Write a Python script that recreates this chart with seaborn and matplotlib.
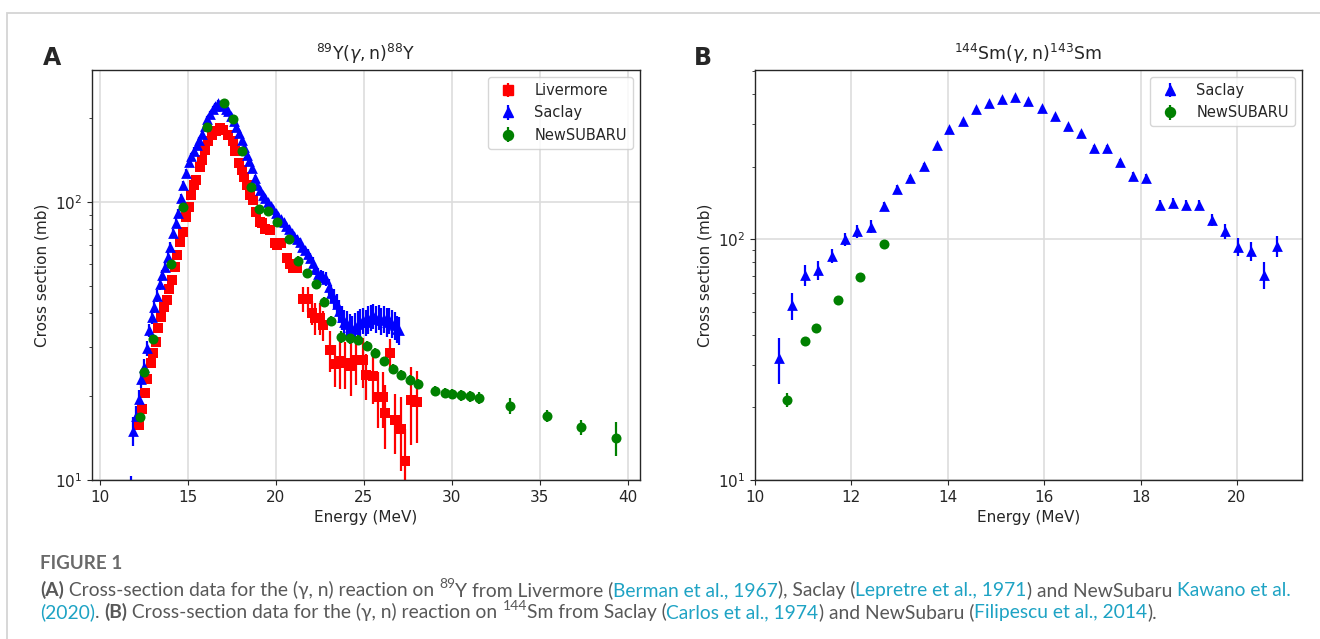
import numpy as np
import pandas as pd
import matplotlib
matplotlib.use("Agg")
import matplotlib.pyplot as plt
from matplotlib.font_manager import FontProperties
from matplotlib.patches import Rectangle
import seaborn as sns

# ---- panel A: 89Y(g,n)88Y ----
liv_e = [12.23, 12.40, 12.56, 12.69, 12.88, 13.03, 13.16, 13.31, 13.47, 13.64,
         13.79, 13.94, 14.09, 14.26, 14.39, 14.55, 14.73, 14.89, 15.04, 15.20,
         15.34, 15.49, 15.68, 15.83, 15.97, 16.15, 16.35, 16.59, 16.82, 17.01,
         17.29, 17.54, 17.67, 17.92, 18.05, 18.18, 18.34, 18.52, 18.71, 18.86,
         19.09, 19.19, 19.40, 19.66, 19.94, 20.04, 20.32, 20.61, 20.80, 21.00,
         21.18, 21.55, 21.84, 22.03, 22.22, 22.50, 22.69, 23.07, 23.35, 23.64,
         23.92, 24.30, 24.58, 24.96, 25.15, 25.53, 25.81, 26.10, 26.19, 26.48,
         26.76, 27.14, 27.33, 27.71, 28.03]
liv_y = [15.8, 18.0, 20.5, 23.0, 26.3, 28.6, 31.4, 35.1, 38.5, 42.0,
         44.4, 48.5, 52.4, 58.5, 64.4, 72.0, 78.2, 88.5, 96.0, 106.0,
         115.0, 120.0, 134.0, 142.0, 154.0, 165.0, 174.0, 180.0, 184.0, 181.0,
         174.0, 165.0, 152.0, 138.0, 130.0, 123.0, 115.0, 106.0, 101.6, 92.3,
         85.0, 83.8, 80.0, 79.3, 71.0, 70.0, 71.0, 62.7, 60.0, 58.0,
         57.7, 44.8, 44.8, 40.0, 38.3, 38.3, 36.1, 29.4, 26.1, 26.7,
         26.3, 25.6, 27.0, 27.0, 23.9, 23.7, 19.9, 19.9, 17.4, 28.7,
         16.4, 15.3, 11.7, 19.4, 19.1]
liv_err = [0.6, 0.7, 0.8, 0.9, 1.0, 1.0, 1.1, 1.2, 1.3, 1.4,
           1.5, 1.6, 1.7, 1.9, 2.0, 2.2, 2.4, 2.6, 2.8, 3.0,
           3.2, 3.3, 3.6, 3.8, 4.0, 4.2, 4.4, 4.5, 4.6, 4.5,
           4.4, 4.2, 4.0, 3.8, 3.6, 3.4, 3.2, 3.0, 2.9, 2.8,
           2.6, 2.6, 2.6, 2.6, 2.5, 2.5, 2.5, 2.4, 2.4, 2.4,
           2.4, 4.5, 4.5, 4.0, 5.0, 5.0, 4.5, 5.0, 4.5, 5.5,
           5.0, 5.5, 5.0, 5.5, 4.5, 5.0, 4.5, 4.5, 4.5, 3.5,
           4.0, 4.5, 3.5, 6.0, 5.5]

sac_e = [11.75, 11.90, 12.05, 12.20, 12.35, 12.50, 12.65, 12.80, 12.95, 13.10,
         13.25, 13.40, 13.55, 13.70, 13.85, 14.00, 14.15, 14.30, 14.45, 14.60,
         14.75, 14.90, 15.05, 15.20, 15.35, 15.50, 15.65, 15.80, 15.95, 16.10,
         16.25, 16.40, 16.55, 16.70, 16.85, 17.00, 17.15, 17.30, 17.45, 17.60,
         17.75, 17.90, 18.05, 18.20, 18.35, 18.50, 18.65, 18.80, 18.95, 19.10,
         19.25, 19.40, 19.55, 19.70, 19.85, 20.00, 20.15, 20.30, 20.45, 20.60,
         20.75, 20.90, 21.05, 21.20, 21.35, 21.50, 21.65, 21.80, 21.95, 22.10,
         22.25, 22.40, 22.55, 22.70, 22.85, 23.00, 23.15, 23.30, 23.45, 23.60,
         23.75, 23.90, 24.05, 24.20, 24.35, 24.50, 24.65, 24.80, 24.95, 25.10,
         25.25, 25.40, 25.55, 25.70, 25.85, 26.00, 26.15, 26.30, 26.45, 26.60,
         26.75, 26.90, 27.00]
sac_y = [8.0, 15.0, 17.0, 19.5, 23.0, 25.5, 29.8, 34.5, 38.5, 42.0,
         46.0, 50.5, 54.5, 58.5, 63.5, 69.0, 77.0, 84.0, 91.0, 103.0,
         115.0, 127.0, 139.0, 146.0, 153.0, 160.0, 167.0, 176.0, 188.0, 198.0,
         207.0, 215.0, 222.0, 226.0, 223.0, 221.0, 216.0, 212.0, 204.0, 196.0,
         186.0, 177.0, 167.0, 157.0, 148.0, 140.0, 132.0, 122.0, 115.0, 110.0,
         106.0, 103.0, 100.0, 97.0, 94.0, 91.5, 89.0, 86.5, 84.5, 82.0,
         80.0, 77.5, 75.5, 73.5, 71.5, 69.0, 67.0, 65.0, 63.0, 60.5,
         57.5, 55.0, 54.0, 53.5, 53.0, 49.5, 47.0, 45.0, 43.0, 40.5,
         38.5, 37.0, 36.5, 35.5, 35.0, 35.5, 36.5, 37.0, 37.5, 37.0,
         38.0, 38.5, 39.0, 38.0, 38.5, 37.5, 38.0, 37.0, 37.5, 36.5,
         36.0, 35.0, 34.5]
sac_err = [2.3, 1.8, 1.5, 1.5, 1.6, 1.7, 1.8, 1.9, 2.0, 2.1,
           2.2, 2.3, 2.4, 2.5, 2.6, 2.8, 3.0, 3.2, 3.4, 3.6,
           3.8, 4.0, 4.2, 4.4, 4.5, 4.6, 4.7, 4.8, 5.0, 5.2,
           5.3, 5.4, 5.5, 5.5, 5.5, 5.4, 5.3, 5.2, 5.1, 5.0,
           4.8, 4.6, 4.4, 4.2, 4.0, 3.8, 3.6, 3.4, 3.2, 3.0,
           2.9, 2.8, 2.7, 2.6, 2.6, 2.5, 2.5, 2.5, 2.5, 2.5,
           2.5, 2.5, 2.5, 2.5, 2.5, 2.6, 2.6, 2.7, 2.7, 2.8,
           2.8, 2.9, 3.0, 3.0, 3.0, 3.2, 3.4, 3.5, 3.6, 3.8,
           3.8, 4.0, 4.0, 4.0, 4.0, 4.2, 4.0, 4.3, 4.1, 4.0,
           4.4, 4.2, 4.1, 4.3, 4.0, 4.2, 4.1, 4.4, 4.0, 4.2,
           4.1, 4.0, 4.0]

ns_e = [12.27, 12.52, 13.03, 14.03, 14.73, 16.06, 17.05, 17.54, 18.05, 18.56,
        19.05, 19.56, 20.08, 20.76, 21.27, 21.78, 22.27, 22.75, 23.16, 23.69,
        24.20, 24.68, 25.19, 25.64, 26.14, 26.67, 27.14, 27.61, 28.10, 29.07,
        29.60, 30.04, 30.55, 31.06, 31.55, 33.33, 35.43, 37.37, 39.32]
ns_y = [16.8, 24.5, 32.1, 59.7, 96.0, 186.0, 226.0, 198.0, 152.0, 113.5,
        94.2, 93.1, 85.0, 73.5, 61.5, 55.5, 50.7, 43.8, 37.3, 32.6,
        32.3, 31.9, 30.3, 28.6, 26.7, 25.1, 23.9, 22.9, 22.1, 20.9,
        20.6, 20.4, 20.2, 20.0, 19.7, 18.5, 17.0, 15.5, 14.2]
ns_err = [0.8, 1.0, 1.2, 2.0, 3.5, 6.0, 7.0, 6.0, 5.0, 3.5,
          3.0, 3.0, 2.8, 2.5, 2.2, 2.0, 2.0, 1.8, 1.6, 1.6,
          1.5, 1.4, 1.3, 1.2, 1.1, 1.0, 1.0, 1.0, 0.9, 0.9,
          0.9, 0.9, 0.9, 0.9, 1.0, 1.2, 0.9, 1.0, 2.0]

# ---- panel B: 144Sm(g,n)143Sm ----
sm_sac_e = [10.50, 10.76, 11.04, 11.31, 11.59, 11.86, 12.12, 12.40, 12.67, 12.95,
            13.22, 13.50, 13.77, 14.03, 14.31, 14.58, 14.85, 15.12, 15.39, 15.66,
            15.95, 16.22, 16.49, 16.76, 17.04, 17.30, 17.57, 17.85, 18.11, 18.40,
            18.67, 18.94, 19.21, 19.48, 19.76, 20.03, 20.30, 20.57, 20.84]
sm_sac_y = [32.0, 53.0, 71.0, 74.3, 85.3, 99.7, 107.7, 112.5, 137.0, 162.0,
            179.0, 201.0, 245.0, 285.0, 309.0, 345.0, 366.0, 381.0, 389.0, 373.0,
            351.0, 325.0, 294.0, 276.0, 239.0, 239.0, 209.0, 183.0, 180.0, 139.0,
            141.6, 139.0, 139.0, 120.0, 108.0, 93.0, 89.0, 71.0, 93.5]
sm_sac_err = [7, 7, 7, 7, 6, 6, 7, 7, 6, 6,
              6, 6, 6, 6, 6, 6, 6, 6, 6, 6,
              6, 6, 6, 6, 6, 6, 6, 6, 6, 6,
              6, 6, 6, 7, 8, 8, 8, 9, 9]

sm_ns_e = [10.66, 11.04, 11.27, 11.72, 12.18, 12.67]
sm_ns_y = [21.5, 37.8, 42.9, 55.9, 69.5, 95.5]
sm_ns_err = [1.5, 1.5, 1.5, 1.5, 2.0, 2.0]

sns.set_style("whitegrid", {"axes.edgecolor": "0.15", "grid.color": "#dddddd",
                            "xtick.bottom": True, "ytick.left": True})
plt.rcParams["font.family"] = ["DejaVu Sans"]
plt.rcParams["axes.linewidth"] = 1.0

W, H = 1320, 639
fig = plt.figure(figsize=(W / 100, H / 100), dpi=100)
axA = fig.add_axes([92 / W, 1 - 480 / H, 548 / W, 410 / H])
axB = fig.add_axes([755 / W, 1 - 480 / H, 547 / W, 410 / H])


def draw(ax, name, e, y, err, color, marker, size):
    df = pd.DataFrame({"Energy": e, "Cross section": y, "err": err})
    ax.errorbar(df["Energy"], df["Cross section"], yerr=df["err"], fmt="none",
                ecolor=color, elinewidth=1.6, zorder=2)
    sns.scatterplot(data=df, x="Energy", y="Cross section", color=color, marker=marker,
                    s=size, linewidth=0, ax=ax, zorder=3, legend=False)
    # proxy artist so the legend shows marker + error bar like the original
    return ax.errorbar([np.nan], [np.nan], yerr=[1], fmt=marker, color=color,
                       ms=np.sqrt(size), elinewidth=1.6, label=name)


hA = [draw(axA, "Livermore", liv_e, liv_y, liv_err, "red", "s", 50),
      draw(axA, "Saclay", sac_e, sac_y, sac_err, "blue", "^", 60),
      draw(axA, "NewSUBARU", ns_e, ns_y, ns_err, "green", "o", 52)]
hB = [draw(axB, "Saclay", sm_sac_e, sm_sac_y, sm_sac_err, "blue", "^", 60),
      draw(axB, "NewSUBARU", sm_ns_e, sm_ns_y, sm_ns_err, "green", "o", 52)]

for ax in (axA, axB):
    ax.set_yscale("log")
    ax.set_xlabel("Energy (MeV)", fontsize=11)
    ax.set_ylabel("Cross section (mb)", fontsize=11)
    ax.tick_params(labelsize=11)
    ax.grid(True, which="major", color="#dddddd", lw=1.2)
    ax.grid(False, which="minor")
    for s in ax.spines.values():
        s.set_visible(True)

axA.set_xlim(9.55, 40.7)
axA.set_ylim(10, 298)
axA.set_xticks([10, 15, 20, 25, 30, 35, 40])
axA.set_title(r"$^{89}\mathrm{Y}(\gamma, \mathrm{n})^{88}\mathrm{Y}$", fontsize=12.5, pad=7)
axA.legend(handles=hA, loc="upper right", fontsize=10.5)

axB.set_xlim(10, 21.35)
axB.set_ylim(10, 503)
axB.set_xticks([10, 12, 14, 16, 18, 20])
axB.set_title(r"$^{144}\mathrm{Sm}(\gamma, \mathrm{n})^{143}\mathrm{Sm}$", fontsize=12.5, pad=7)
axB.legend(handles=hB, loc="upper right", fontsize=10.5)

fig.text(52 / W, 1 - 58 / H, "A", fontsize=17, weight="bold", ha="center", va="center")
fig.text(703 / W, 1 - 58 / H, "B", fontsize=17, weight="bold", ha="center", va="center")

# light frame around the figure box
fig.patches.append(Rectangle((7 / W, -0.1), 1.2, 1.1 - 13 / H, transform=fig.transFigure,
                             fill=False, edgecolor="#d4d4d4", lw=1.3))

# ---- caption ----
gray = "#585858"
link = "#1ea3c4"
cap_family = ["Lato", "DejaVu Sans"]
renderer = fig.canvas.get_renderer()


def flow(y_px, parts, x_px=40, size=13.9):
    x = x_px
    for txt, color, bold, sup in parts:
        fs = size * 0.72 if sup else size
        fp = FontProperties(family=cap_family, size=fs, weight="bold" if bold else "normal")
        yy = y_px - (7.5 if sup else 0)
        fig.text(x / W, 1 - yy / H, txt, fontproperties=fp, color=color, va="baseline", ha="left")
        w1 = renderer.get_text_width_height_descent("|" + txt + "|", fp, ismath=False)[0]
        w0 = renderer.get_text_width_height_descent("||", fp, ismath=False)[0]
        x += w1 - w0


fig.text(40 / W, 1 - 569 / H, "FIGURE 1", fontsize=13.6, weight="bold", color="#6a6a6a",
         family=cap_family, va="baseline")
flow(596, [("(A)", gray, True, False),
           (" Cross-section data for the (\u03b3, n) reaction on ", gray, False, False),
           ("89", gray, False, True),
           ("Y from Livermore (", gray, False, False),
           ("Berman et al., 1967", link, False, False),
           ("), Saclay (", gray, False, False),
           ("Lepretre et al., 1971", link, False, False),
           (") and NewSubaru ", gray, False, False),
           ("Kawano et al.", link, False, False)])
flow(618, [("(2020)", link, False, False),
           (". ", gray, False, False),
           ("(B)", gray, True, False),
           (" Cross-section data for the (\u03b3, n) reaction on ", gray, False, False),
           ("144", gray, False, True),
           ("Sm from Saclay (", gray, False, False),
           ("Carlos et al., 1974", link, False, False),
           (") and NewSubaru (", gray, False, False),
           ("Filipescu et al., 2014", link, False, False),
           (").", gray, False, False)])

fig.savefig("out.png", dpi=100)
